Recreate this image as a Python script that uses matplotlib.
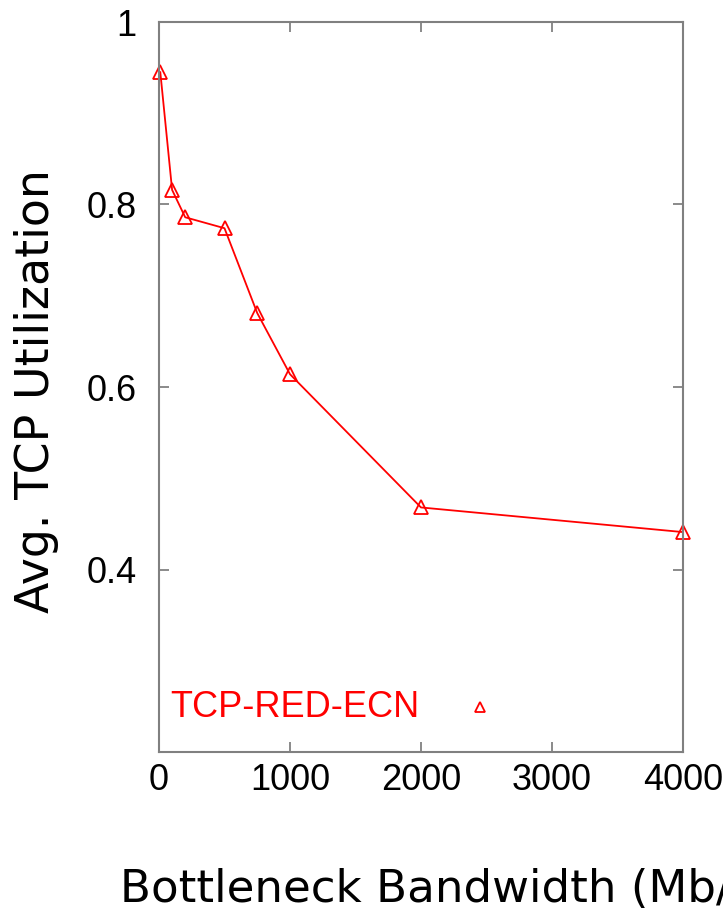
import numpy as np
import matplotlib
matplotlib.use("Agg")
import matplotlib.pyplot as plt

# Данные
bandwidth = [10, 100, 200, 500, 750, 1000, 2000, 4000]        # Mb/s
utilization = [0.945, 0.816, 0.786, 0.774, 0.681, 0.614, 0.468, 0.441]
series_name = "TCP-RED-ECN"
xticks = [0, 1000, 2000, 3000, 4000]
yticks = [0.4, 0.6, 0.8, 1.0]
ytick_labels = ["0.4", "0.6", "0.8", "1"]

W, H = 723, 913
fig = plt.figure(figsize=(W / 100, H / 100), dpi=100)
ax = fig.add_axes([159 / W, 1 - 752 / H, (683 - 159) / W, (752 - 22) / H])

red = "#ff0000"
ax.plot(bandwidth, utilization, color=red, lw=1.3, marker="^", ms=9.5,
        mfc="none", mec=red, mew=1.3, clip_on=False)

ax.set_xlim(0, 4000)
ax.set_ylim(0.2, 1.0)
ax.set_xticks(xticks)
ax.set_yticks(yticks)
ax.set_yticklabels(ytick_labels)

tick_font = ["Liberation Sans", "DejaVu Sans"]
for lab in ax.get_xticklabels() + ax.get_yticklabels():
    lab.set_family(tick_font)
    lab.set_fontsize(26)
ax.tick_params(direction="in", length=7, width=1.2, color="#777777",
               top=True, right=True)
ax.tick_params(axis="y", pad=16)
ax.tick_params(axis="x", pad=8)
for s in ax.spines.values():
    s.set_color("#808080")
    s.set_linewidth(1.5)

# легенда в стиле gnuplot: текст и маркер внутри осей
ax.text(170 / W, 1 - 707 / H, series_name, transform=fig.transFigure,
        color=red, fontsize=26, family=["Liberation Sans", "DejaVu Sans"],
        ha="left", va="center")
ax.plot([480 / W], [1 - 707 / H], transform=fig.transFigure, marker="^",
        ms=7, mfc="none", mec=red, mew=1.3, clip_on=False)

fig.text(37 / W, 1 - 391 / H, "Avg. TCP Utilization", rotation=90,
         ha="center", va="center", fontsize=33, family="DejaVu Sans")
fig.text(120 / W, 1 - 902 / H, "Bottleneck Bandwidth (Mb/s)",
         ha="left", va="baseline", fontsize=32.5, family="DejaVu Sans")

fig.savefig("out.png", dpi=100)
